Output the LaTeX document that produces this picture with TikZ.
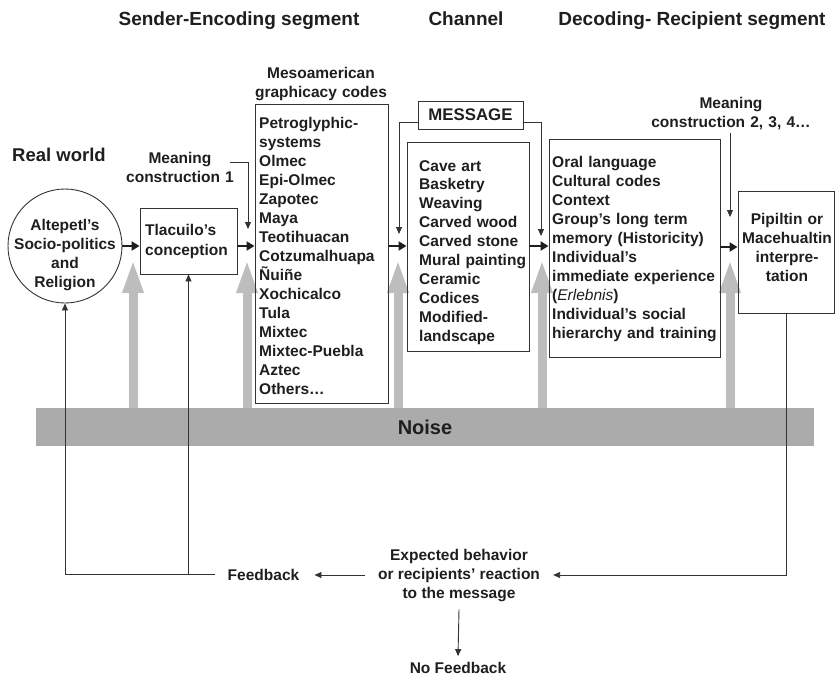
\documentclass[tikz,border=0pt]{standalone}
\usepackage{fontspec}
\setmainfont{Liberation Sans}
\usetikzlibrary{arrows.meta}
\definecolor{ink}{HTML}{1E1E1E}
\definecolor{linec}{HTML}{333333}
\definecolor{noisegray}{HTML}{ABABAB}
\definecolor{arrowgray}{HTML}{BDBDBD}
\begin{document}
\begin{tikzpicture}[x=1pt,y=-1pt,
  every node/.style={font=\fontsize{15.5}{19}\selectfont\bfseries, text=ink, inner sep=0pt},
  box/.style={draw=linec, line width=0.9pt, rectangle, inner sep=0pt},
  txt/.style={anchor=base west, align=left, text width=#1},
  txt/.default=170pt,
  ctxt/.style={anchor=base, align=center, text width=#1},
  ctxt/.default=170pt,
  thinline/.style={draw=linec, line width=0.9pt},
  thinarrow/.style={thinline, -{Triangle[length=7pt,width=6pt]}},
  flow/.style={draw=ink, line width=2pt, -{Triangle[length=8pt,width=9pt]}},
  noisearrow/.style={draw=arrowgray, line width=9pt, -{Triangle[length=34pt,width=19pt]}},
  head/.style={anchor=base, font=\fontsize{19}{23}\selectfont\bfseries},
]
\useasboundingbox (0,0) rectangle (835,678);

% headers
\node[head] (h1) at (239,25) {Sender-Encoding segment};
\node[head] (h2) at (466,25) {Channel};
\node[head] (h3) at (692,25) {Decoding- Recipient segment};

% gray noise arrows
\foreach \x in {133,247,398,542,730}
  \draw[noisearrow] (\x,409) -- (\x,259);

% noise bar
\node[fill=noisegray, minimum width=778pt, minimum height=38pt,
      font=\fontsize{20}{24}\selectfont\bfseries] (noise) at (425,427) {Noise};

% real world
\node[anchor=base west, font=\fontsize{18.5}{22}\selectfont\bfseries] (rw) at (12,161) {Real world};

% circle
\node[circle, draw=linec, line width=0.9pt, minimum size=114pt] (circ) at (65,246) {};
\node[ctxt=112pt] (circt) at (65,230) {Altepetl’s\\Socio-politics\\and\\Religion};

% Tlacuilo
\node[box, minimum width=97pt, minimum height=66pt] (tlac) at (188.5,241) {};
\node[txt=92pt, font=\fontsize{15.5}{20}\selectfont\bfseries] (tlact) at (145,235) {Tlacuilo’s\\conception};

% meaning construction 1
\node[ctxt] (m1) at (180,163) {Meaning\\construction 1};

% Mesoamerican codes
\node[ctxt] (mesoh) at (321,78) {Mesoamerican\\graphicacy codes};
\node[box, minimum width=133pt, minimum height=299pt] (meso) at (321.5,253.5) {};
\node[txt=128pt] (mesot) at (259,128) {Petroglyphic-\\systems\\Olmec\\Epi-Olmec\\Zapotec\\Maya\\Teotihuacan\\Cotzumalhuapa\\Ñuiñe\\Xochicalco\\Tula\\Mixtec\\Mixtec-Puebla\\Aztec\\Others…};

% message
\node[box, minimum width=105pt, minimum height=28pt, font=\fontsize{16.8}{20}\selectfont\bfseries] (msg) at (470.5,115) {MESSAGE};

% channel
\node[box, minimum width=122pt, minimum height=209pt] (chan) at (468,246.5) {};
\node[txt=110pt, font=\fontsize{15.5}{18.9}\selectfont\bfseries] (chant) at (419,171) {Cave art\\Basketry\\Weaving\\Carved wood\\Carved stone\\Mural painting\\Ceramic\\Codices\\Modified-\\landscape};

% decoding
\node[box, minimum width=171pt, minimum height=218pt] (dec) at (634.5,248) {};
\node[txt=168pt] (dect) at (552,167) {Oral language\\Cultural codes\\Context\\Group’s long term\\memory (Historicity)\\Individual’s\\immediate experience\\({\mdseries\itshape Erlebnis})\\Individual’s social\\hierarchy and training};

% meaning construction 2
\node[ctxt] (m2) at (731,108) {Meaning\\construction 2, 3, 4…};

% pipiltin
\node[box, minimum width=96pt, minimum height=122pt] (pip) at (786,252) {};
\node[ctxt=96pt] (pipt) at (787,224) {Pipiltin or\\Macehualtin\\interpre-\\tation};

% bottom texts
\node[inner xsep=15pt, inner ysep=4pt] (fb) at (263.5,575) {Feedback};
\node[align=center, inner xsep=13pt, inner ysep=7pt] (exp) at (459,576) {Expected behavior\\or recipients’ reaction\\to the message};
\node[inner ysep=6pt] (nofb) at (458,668) {No Feedback};

% main flow arrows
\draw[flow] (circ.east) -- (tlac.west |- circ.east);
\draw[flow] (tlac.east |- circ.east) -- (meso.west |- circ.east);
\draw[flow] (meso.east |- circ.east) -- (chan.west |- circ.east);
\draw[flow] (chan.east |- circ.east) -- (dec.west |- circ.east);
\draw[flow] (dec.east |- 0,247) -- (pip.west |- 0,247);

% meaning construction 1 connector
\coordinate (m1s) at (230,162);
\coordinate (m1e) at (248,229);
\draw[thinarrow] (m1s) -| (m1e);

% message connectors
\coordinate (msgl) at (399,234);
\coordinate (msgr) at (541,236);
\draw[thinarrow] (msg.west |- 0,122) -| (msgl);
\draw[thinarrow] (msg.east |- 0,122) -| (msgr);

% meaning construction 2 connector
\coordinate (m2s) at (730,133);
\coordinate (m2e) at (730,217);
\draw[thinarrow] (m2s) -- (m2e);

% feedback loop
\coordinate (fbl) at (215,574);
\draw[thinarrow] (fbl) -| (circ.south);
\draw[thinarrow] (fbl -| tlac.south) -- (tlac.south);
\draw[thinarrow] (exp.west |- fb.east) -- (fb.east);
\draw[thinarrow] (pip.south) |- (exp.east |- fb.east);
\draw[thinarrow] (exp.south) -- (nofb.north);
\end{tikzpicture}
\end{document}
